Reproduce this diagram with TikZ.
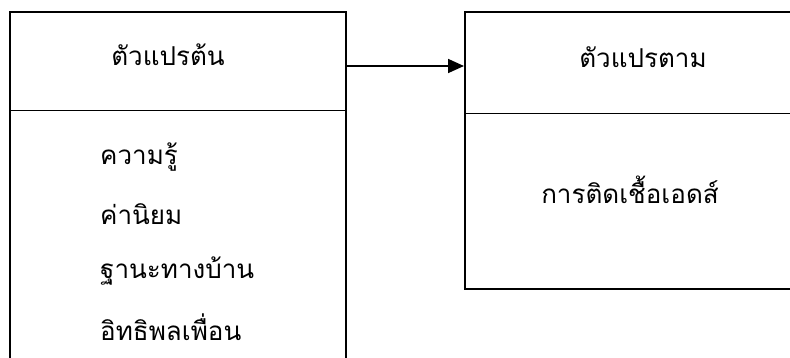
\documentclass[tikz,border=0pt]{standalone}
\usepackage{fontspec}
\newfontfamily\thaifont[Script=Thai]{Loma}
\usetikzlibrary{arrows.meta}
\begin{document}
\begin{tikzpicture}[x=1pt,y=1pt,
  box/.style={draw=black, line width=1.7pt, rectangle, inner sep=0pt, anchor=north west},
  head/.style={draw=black, line width=1pt, rectangle, inner sep=0pt, anchor=north west},
  lbl/.style={font=\thaifont\fontsize{26}{30}\selectfont, inner sep=0pt},
  conn/.style={line width=1.7pt, -{Triangle[length=16pt,width=14pt]}}]
\useasboundingbox (0,0) rectangle (790,-358);
\clip (0,0) rectangle (790,-358);
\node[box, minimum width=336pt, minimum height=380pt] (lo) at (9,-11) {};
\node[head, minimum width=336pt, minimum height=99pt] (lh) at (9,-11) {};
\node[box, minimum width=358pt, minimum height=277pt] (ro) at (464,-11) {};
\node[head, minimum width=358pt, minimum height=102pt] (rh) at (464,-11) {};
\node[lbl] (t1) at (168,-55) {ตัวแปรต้น};
\node[lbl] (t2) at (643,-57) {ตัวแปรตาม};
\node[lbl, anchor=west] (a1) at (100,-157) {ความรู้};
\node[lbl, anchor=west] (a2) at (100,-214) {ค่านิยม};
\node[lbl, anchor=west] (a3) at (100,-271) {ฐานะทางบ้าน};
\node[lbl, anchor=west] (a4) at (100,-327) {อิทธิพลเพื่อน};
\node[lbl] (b1) at (630,-190) {การติดเชื้อเอดส์};
\coordinate (s) at (lo.east |- 0,-66);
\coordinate (e) at (ro.west |- 0,-66);
\draw[conn] (s) -- (e);
\end{tikzpicture}
\end{document}
